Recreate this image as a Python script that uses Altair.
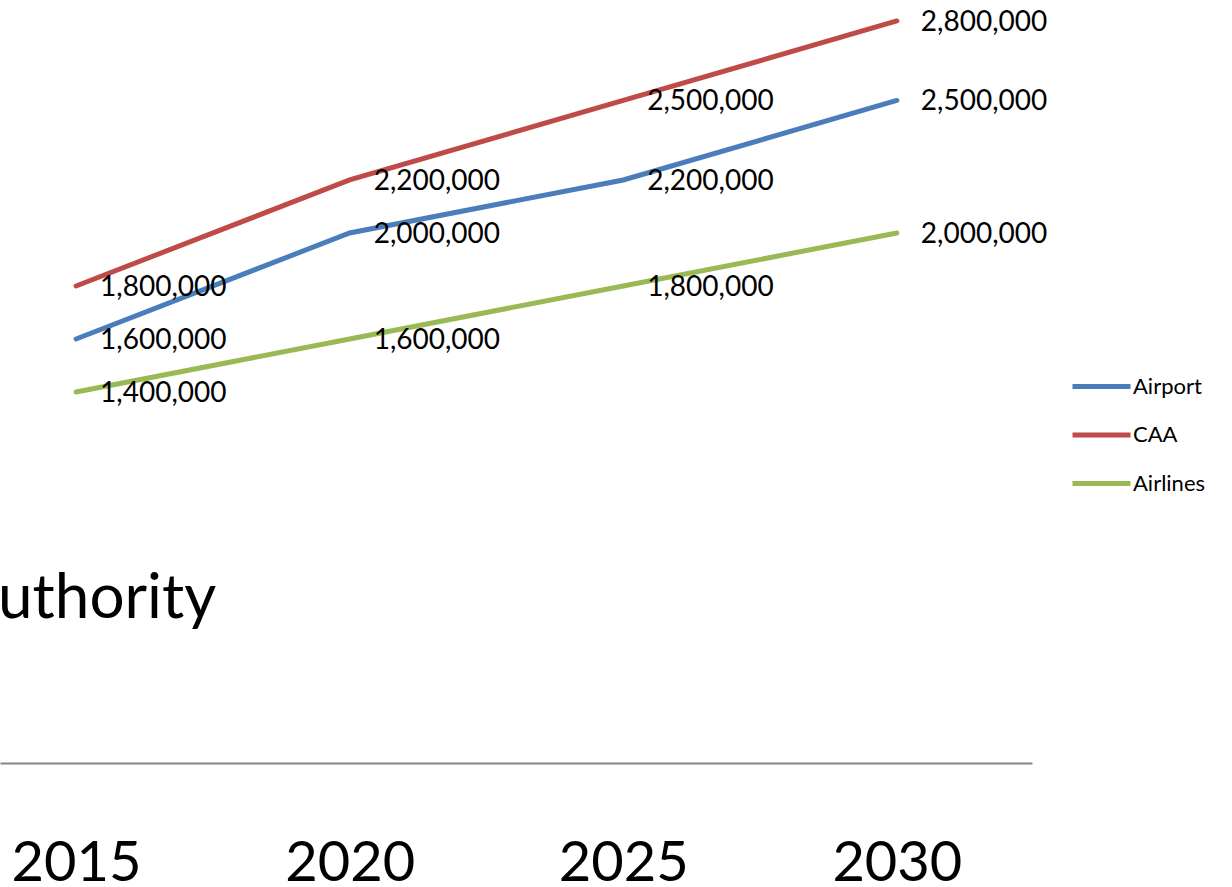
import altair as alt
import pandas as pd

years = [2015, 2020, 2025, 2030]
series = ["Airport", "CAA", "Airlines"]
airport = [1600000, 2000000, 2200000, 2500000]
caa = [1800000, 2200000, 2500000, 2800000]
airlines = [1400000, 1600000, 1800000, 2000000]
colors = ["#4A7EBB", "#BE4B48", "#98B954"]
title_fragment = "uthority"

rows = []
for name, vals in zip(series, [airport, caa, airlines]):
    for y, v in zip(years, vals):
        rows.append({"Year": y, "Series": name, "Value": v})
df = pd.DataFrame(rows)

FONT = "Lato"

x = alt.X("Year:Q",
          scale=alt.Scale(domain=[2013.61, 2032.47], nice=False, zero=False),
          axis=alt.Axis(values=years, format="d", title=None, grid=False,
                        ticks=False, tickSize=0, domainColor="#868686",
                        domainWidth=2, labelFontSize=56, labelFont=FONT,
                        labelColor="#000000", labelBaseline="alphabetic",
                        labelPadding=117, labelFlush=False))
y = alt.Y("Value:Q", scale=alt.Scale(domain=[0, 2879000], nice=False), axis=None)

color = alt.Color("Series:N",
                  scale=alt.Scale(domain=series, range=colors),
                  legend=alt.Legend(title=None, orient="none", legendX=1070,
                                    legendY=355, symbolType="stroke",
                                    symbolSize=3364, symbolStrokeWidth=5,
                                    labelFont=FONT, labelFontSize=22,
                                    labelColor="#000000", labelOffset=0,
                                    rowPadding=5.5))

lines = alt.Chart(df).mark_line(strokeWidth=5, strokeCap="round").encode(
    x=x, y=y, color=color, order="Year:Q")

labels = alt.Chart(df).mark_text(align="left", baseline="middle", dx=24, dy=2,
                                 font=FONT, fontSize=28, color="#000000").encode(
    x=x, y=y, text=alt.Text("Value:Q", format=","))

frag = alt.Chart(pd.DataFrame({"t": [title_fragment]})).mark_text(
    align="left", baseline="alphabetic", font=FONT, fontSize=62,
    color="#000000").encode(x=alt.value(-2), y=alt.value(618), text="t:N")

chart = alt.layer(lines, labels, frag).properties(
    width=1032, height=763,
    background="white",
    autosize=alt.AutoSizeParams(type="none"),
    padding={"left": 0, "top": 0, "right": 200, "bottom": 124},
).configure_view(stroke=None, strokeWidth=0)

chart.save("out.html", embed_options={"renderer": "svg", "actions": False})
